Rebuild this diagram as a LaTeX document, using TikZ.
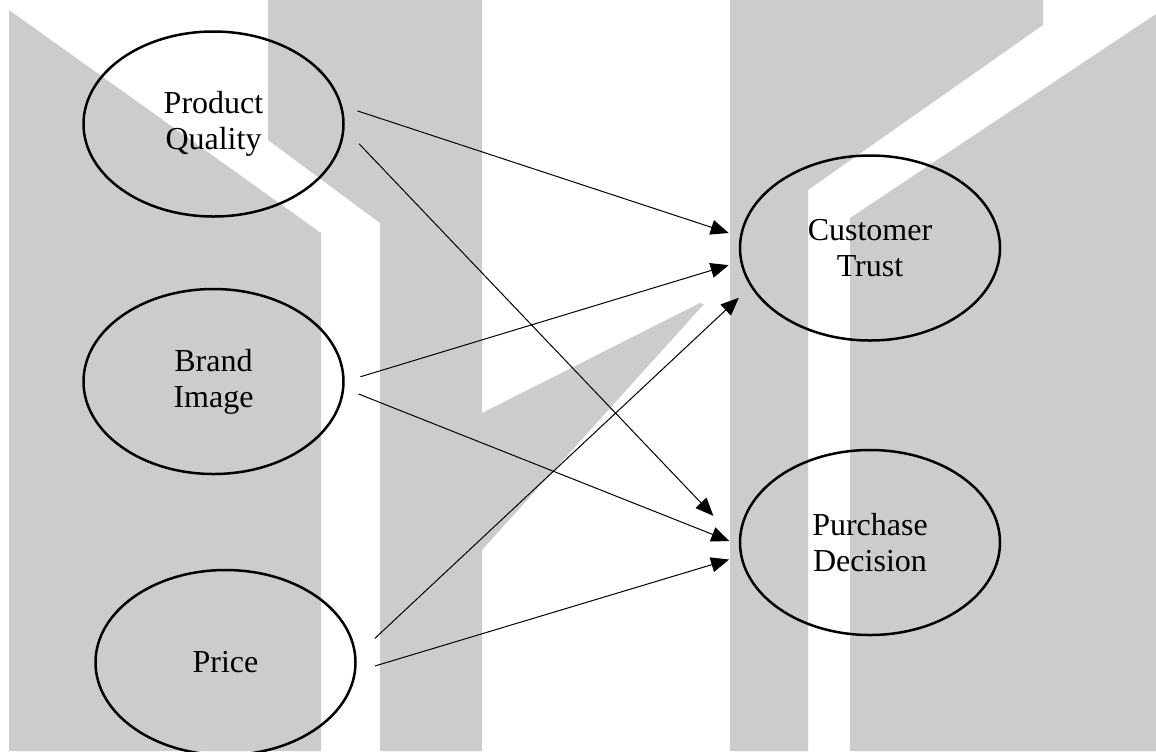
\documentclass[tikz,border=0pt]{standalone}
\usepackage{fontspec}
\setmainfont{Liberation Serif}
\usepackage{xcolor}
\usepackage{tikz}
\usetikzlibrary{arrows.meta,positioning,shapes.geometric}
\definecolor{markgray}{HTML}{CCCCCC}

\begin{document}
\begin{tikzpicture}[
    x=0.5pt,y=-0.5pt,
    every node/.style={font=\fontsize{16}{18}\selectfont},
    latent/.style={draw,ellipse,line width=1.25pt,
                   minimum width=130pt,minimum height=92.5pt,align=center},
    arrow/.style={-{Triangle[length=9pt,width=7.5pt]},line width=0.5pt}
  ]
    \useasboundingbox (0,0) rectangle (1156,751);
    % watermark behind the model
    \fill[markgray] (9,10) -- (321,233) -- (321,751) -- (9,751) -- cycle;
    \fill[markgray] (268,0) -- (482,0) -- (482,751) -- (380,751) -- (380,223) -- (268,140) -- cycle;
    \fill[markgray] (482,413) -- (700,303) -- (704,304) -- (482,550) -- cycle;
    \fill[markgray] (730,0) -- (1043,0) -- (1043,25) -- (808,190) -- (808,751) -- (730,751) -- cycle;
    \fill[markgray] (850,218) -- (1156,14) -- (1156,751) -- (850,751) -- cycle;

    \node[latent] (pq) at (213.5,124) {Product\\Quality};
    \node[latent, below=35pt of pq] (bi) {Brand\\Image};
    \node[latent] (pr) at (225.5,662.5) {Price};
    \node[latent] (ct) at (870,248) {Customer\\Trust};
    \node[latent, below=53.5pt of ct] (pd) {Purchase\\Decision};

    \draw[arrow, shorten <=8pt, shorten >=5.8pt] (pq.8.6) -- (ct.175);
    \draw[arrow, shorten <=10.5pt, shorten >=18.4pt] (pq.-2.5) -- (pd.180);
    \draw[arrow, shorten <=8.2pt, shorten >=6pt] (bi.0.3) -- (ct.186);
    \draw[arrow, shorten <=7.6pt, shorten >=5.1pt] (bi.-3.7) -- (pd.181);
    \draw[arrow, shorten <=12.6pt, shorten >=8pt] (pr.3.7) -- (ct.198.8);
    \draw[arrow, shorten <=9.9pt, shorten >=5.8pt] (pr.-4.5) -- (pd.186);
  \end{tikzpicture}
\end{document}
